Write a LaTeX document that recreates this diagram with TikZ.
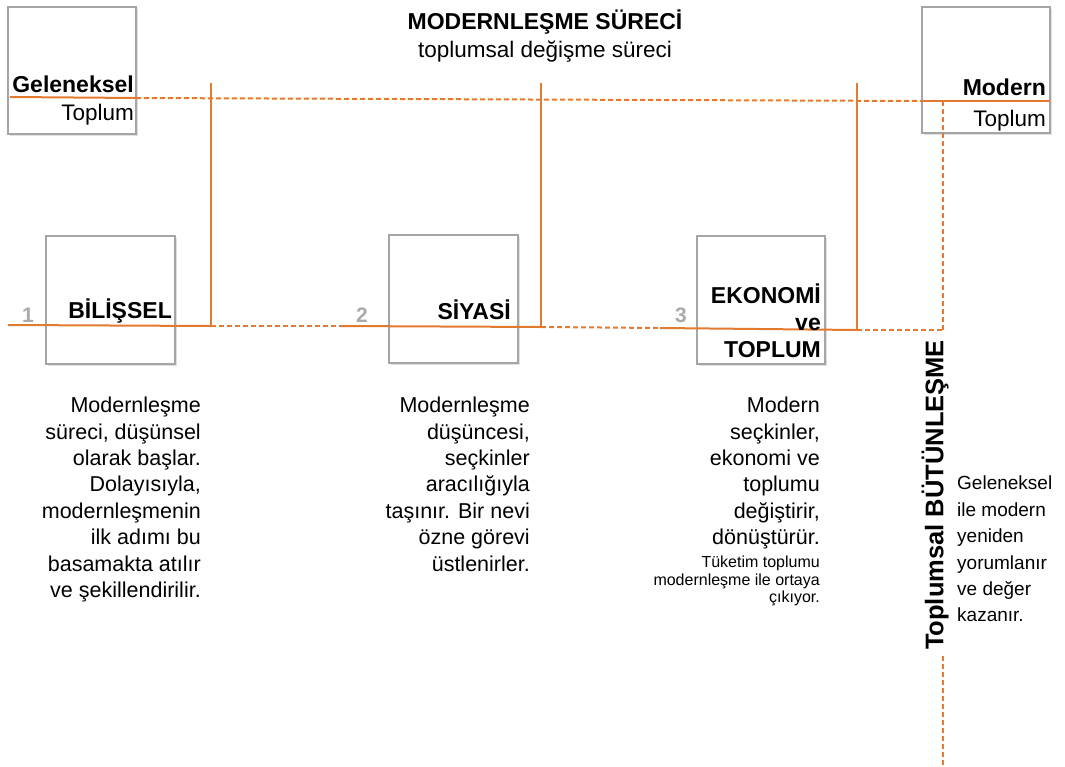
\documentclass[tikz,border=0pt]{standalone}
\usepackage{fontspec}
\setmainfont{Liberation Sans}
\definecolor{orng}{RGB}{228,122,48}
\definecolor{boxgray}{RGB}{165,165,165}
\definecolor{numgray}{RGB}{170,170,170}
\begin{document}
\begin{tikzpicture}[x=1pt,y=-1pt,
  frame/.style={draw=boxgray,line width=2pt,fill=white},
  shadow/.style={fill=black!12},
  solidline/.style={draw=orng,line width=2pt},
  dashline/.style={draw=orng,line width=2pt,dash pattern=on 5pt off 3pt},
  lab/.style={inner sep=0pt,font=\fontsize{23}{26}\selectfont\bfseries},
  reg/.style={inner sep=0pt,font=\fontsize{22.5}{26}\selectfont},
  num/.style={inner sep=0pt,text=numgray,font=\fontsize{21}{24}\selectfont\bfseries},
  desc/.style={inner sep=0pt,align=right,font=\fontsize{21.5}{26.4}\selectfont},
  small/.style={inner sep=0pt,align=right,font=\fontsize{16}{17.5}\selectfont},
]
\useasboundingbox (0,0) rectangle (1065,767);
\fill[white] (0,0) rectangle (1065,767);

% boxes (with faint shadow)
\foreach \a/\b/\c/\d in {8/7/136/134, 922/7/1050/133, 46/236/175/364, 389/235/518/363, 697/236/825/364}{
  \fill[shadow] (\a+2,\b+2) rectangle (\c+2,\d+2);
  \draw[frame] (\a,\b) rectangle (\c,\d);
}

% coordinates
\coordinate (g1) at (10,97);
\coordinate (g2) at (136,98);
\coordinate (m1) at (922,101);
\coordinate (m2) at (1050,101);
\coordinate (mv) at (943,101);
\coordinate (v1t) at (211,83);
\coordinate (v2t) at (541,83);
\coordinate (v3t) at (857,83);
\coordinate (a0) at (8,325);
\coordinate (a1) at (211,326);
\coordinate (b0) at (340,326);
\coordinate (b1) at (541,327);
\coordinate (c0) at (660,328);
\coordinate (c1) at (857,330);
\coordinate (d1) at (943,330);
\coordinate (e0) at (943,656);
\coordinate (e1) at (943,767);

% top lines
\draw[solidline] (g1) -- (g2);
\draw[dashline] (g2) -- (m1);
\draw[solidline] (m1) -- (m2);
% verticals
\draw[solidline] (v1t) -- (a1);
\draw[solidline] (v2t) -- (b1);
\draw[solidline] (v3t) -- (c1);
% level lines
\draw[solidline] (a0) -- (a1);
\draw[dashline] (a1) -- (b0);
\draw[solidline] (b0) -- (b1);
\draw[dashline] (b1) -- (c0);
\draw[solidline] (c0) -- (c1);
\draw[dashline] (c1) -- (d1);
\draw[dashline] (mv) -- (d1);
\draw[dashline] (e0) -- (e1);

% title
\node[lab] (title) at (545,22) {MODERNLEŞME SÜRECİ};
\node[reg] (subtitle) at (545,52) {toplumsal değişme süreci};

% box labels
\node[lab,anchor=base east] (gel) at (134,93) {Geleneksel};
\node[reg,anchor=base east] (gtop) at (134,121) {Toplum};
\node[lab,anchor=base east] (mod) at (1046,96) {Modern};
\node[reg,anchor=base east] (mtop) at (1046,127) {Toplum};

\node[lab,anchor=base east] (bil) at (172,318) {BİLİŞSEL};
\node[lab,anchor=base east] (siy) at (511,319) {SİYASİ};
\node[lab,anchor=base east] (eko) at (821,303) {EKONOMİ};
\node[lab,anchor=base east] (ve) at (821,330) {ve};
\node[lab,anchor=base east] (top) at (821,357) {TOPLUM};

\node[num,anchor=base] (n1) at (28,322) {1};
\node[num,anchor=base] (n2) at (362,322) {2};
\node[num,anchor=base] (n3) at (681,322) {3};

% descriptions
\node[desc,anchor=north east] (d1t) at (201,397) {Modernleşme\\süreci, düşünsel\\olarak başlar.\\Dolayısıyla,\\modernleşmenin\\ilk adımı bu\\basamakta atılır\\ve şekillendirilir.};
\node[desc,anchor=north east] (d2t) at (530,397) {Modernleşme\\düşüncesi,\\seçkinler\\aracılığıyla\\taşınır. Bir nevi\\özne görevi\\üstlenirler.};
\node[desc,anchor=north east] (d3t) at (820,397) {Modern\\seçkinler,\\ekonomi ve\\toplumu\\değiştirir,\\dönüştürür.};
\node[small,anchor=north east] (d3s) at (820,556) {Tüketim toplumu\\modernleşme ile ortaya\\çıkıyor.};

% integration
\node[lab,rotate=90,font=\fontsize{25.5}{28}\selectfont\bfseries] (but) at (935,495) {Toplumsal BÜTÜNLEŞME};
\node[inner sep=0pt,align=left,anchor=north west,font=\fontsize{19}{26.4}\selectfont] (d4t) at (957,476) {Geleneksel\\ile modern\\yeniden\\yorumlanır\\ve değer\\kazanır.};
\end{tikzpicture}
\end{document}
